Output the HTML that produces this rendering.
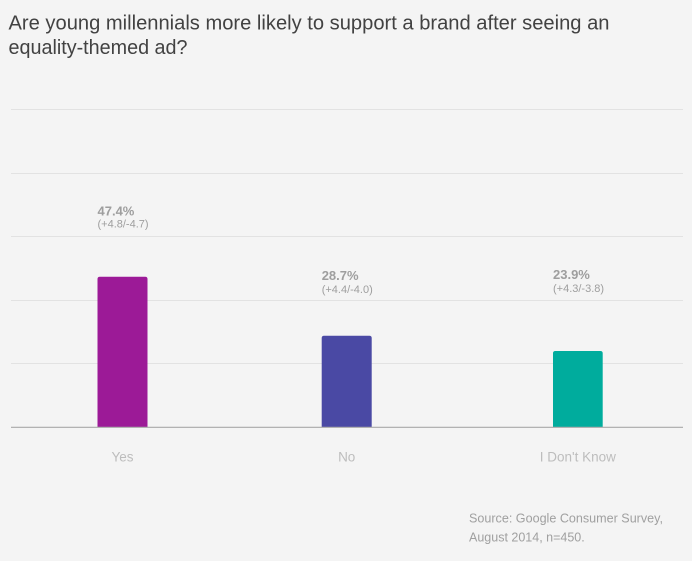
<!DOCTYPE html>
<html>
<head>
<meta charset="utf-8">
<style>
  html, body { margin: 0; padding: 0; background: #f4f4f4; }
  body { width: 692px; height: 561px; overflow: hidden; }
  svg { display: block; font-family: "Liberation Sans", Arial, sans-serif; }
</style>
</head>
<body>
<svg width="692" height="561" viewBox="0 0 692 561" xmlns="http://www.w3.org/2000/svg">
  <rect x="0" y="0" width="692" height="561" fill="#f4f4f4"/>

  <!-- Title -->
  <text x="8.5" y="29.3" font-size="20" fill="#424242" textLength="601" lengthAdjust="spacingAndGlyphs">Are young millennials more likely to support a brand after seeing an</text>
  <text x="8.5" y="54" font-size="20" fill="#424242" textLength="179" lengthAdjust="spacingAndGlyphs">equality-themed ad?</text>

  <!-- Gridlines -->
  <g stroke="#e2e2e2" stroke-width="1">
    <line x1="11" y1="109.5" x2="683" y2="109.5"/>
    <line x1="11" y1="173.5" x2="683" y2="173.5"/>
    <line x1="11" y1="236.5" x2="683" y2="236.5"/>
    <line x1="11" y1="300.5" x2="683" y2="300.5"/>
    <line x1="11" y1="363.5" x2="683" y2="363.5"/>
  </g>

  <!-- Bars -->
  <path d="M97.5,427 V279 Q97.5,276.7 99.8,276.7 H145.2 Q147.5,276.7 147.5,279 V427 Z" fill="#9c1a97"/>
  <path d="M321.7,427 V338 Q321.7,335.7 324,335.7 H369.4 Q371.7,335.7 371.7,338 V427 Z" fill="#4a49a4"/>
  <path d="M553,427 V353.3 Q553,351 555.3,351 H600.4 Q602.7,351 602.7,353.3 V427 Z" fill="#00ac9d"/>

  <!-- Baseline -->
  <line x1="11" y1="427.3" x2="683" y2="427.3" stroke="#a8a8a8" stroke-width="1.2"/>

  <!-- Value labels -->
  <g fill="#9e9e9e">
    <text x="97.5" y="215.7" font-size="13" font-weight="bold">47.4%</text>
    <text x="97.5" y="227.7" font-size="11">(+4.8/-4.7)</text>
    <text x="321.7" y="279.8" font-size="13" font-weight="bold">28.7%</text>
    <text x="321.7" y="292.8" font-size="11">(+4.4/-4.0)</text>
    <text x="553" y="279" font-size="13" font-weight="bold">23.9%</text>
    <text x="553" y="292" font-size="11">(+4.3/-3.8)</text>
  </g>

  <!-- Category labels -->
  <g fill="#bdbdbd" font-size="13.5" text-anchor="middle">
    <text x="122.5" y="461.5">Yes</text>
    <text x="346.7" y="461.5">No</text>
    <text x="577.8" y="461.5">I Don't Know</text>
  </g>

  <!-- Source -->
  <g fill="#a0a0a0" font-size="12.5">
    <text x="469" y="522.7" textLength="194" lengthAdjust="spacingAndGlyphs">Source: Google Consumer Survey,</text>
    <text x="469" y="541.7">August 2014, n=450.</text>
  </g>
</svg>
</body>
</html>
